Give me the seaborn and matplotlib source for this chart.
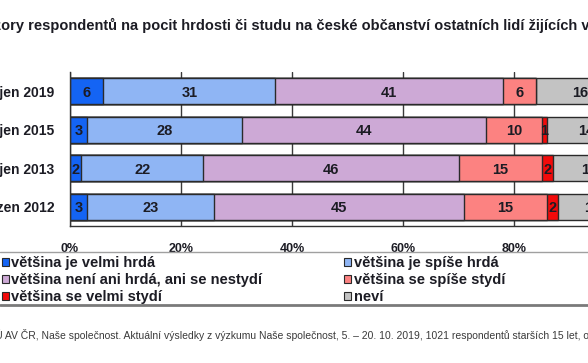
import matplotlib

matplotlib.use("Agg", force=True)
import pandas as pd  # noqa: E402
import seaborn as sns  # noqa: E402
from matplotlib import pyplot as plt  # noqa: E402
from matplotlib.lines import Line2D  # noqa: E402
from matplotlib.patches import Patch  # noqa: E402

PERIODS = ["říjen 2019", "říjen 2015", "říjen 2013", "březen 2012"]
ANSWERS = [
    "většina je velmi hrdá",
    "většina je spíše hrdá",
    "většina není ani hrdá, ani se nestydí",
    "většina se spíše stydí",
    "většina se velmi stydí",
    "neví",
]
VELMI_HRDA = [6, 3, 2, 3]
SPISE_HRDA = [31, 28, 22, 23]
ANI_ANI = [41, 44, 46, 45]
SPISE_STYDI = [6, 10, 15, 15]
VELMI_STYDI = [0, 1, 2, 2]
NEVI = [16, 14, 13, 12]
X_TICKS = [0, 20, 40, 60, 80, 100]

TITLE = ("Názory respondentů na pocit hrdosti či studu na české občanství "
         "ostatních lidí žijících v ČR")
SOURCE = ("Zdroj: CVVM SOÚ AV ČR, Naše společnost. Aktuální výsledky z výzkumu "
          "Naše společnost, 5. – 20. 10. 2019, 1021 respondentů starších 15 let, "
          "osobní rozhovor.")

PALETTE = {
    ANSWERS[0]: "#1464F4",
    ANSWERS[1]: "#8FB5F4",
    ANSWERS[2]: "#CDA9D6",
    ANSWERS[3]: "#FC8281",
    ANSWERS[4]: "#F20A0A",
    ANSWERS[5]: "#C3C3C3",
}
TEXT_COLOR = "#1c1c24"
EDGE = "#2a2a2a"

sns.set_style("white")
plt.rcParams["font.family"] = ["Liberation Sans", "DejaVu Sans"]

values = [VELMI_HRDA, SPISE_HRDA, ANI_ANI, SPISE_STYDI, VELMI_STYDI, NEVI]
rows = []
for answer, series in zip(ANSWERS, values):
    for period, value in zip(PERIODS, series):
        rows.append({"obdobi": period, "odpoved": answer, "podil": value})
frame = pd.DataFrame(rows)
frame["odpoved"] = pd.Categorical(frame["odpoved"], categories=ANSWERS, ordered=True)
frame = frame.sort_values(["obdobi", "odpoved"])
frame["konec"] = frame.groupby("obdobi")["podil"].cumsum()
frame["stred"] = frame["konec"] - frame["podil"] / 2

fig = plt.figure(figsize=(5.88, 3.63), dpi=100)
ax = fig.add_axes([70 / 588, 1 - 226.3 / 363, 555 / 588, 154.6 / 363])

# stacked bars: draw cumulative totals from the longest down
for answer in reversed(ANSWERS):
    part = frame[frame["odpoved"] == answer]
    sns.barplot(
        data=part,
        x="konec",
        y="obdobi",
        order=PERIODS,
        orient="h",
        color=PALETTE[answer],
        saturation=1,
        edgecolor=EDGE,
        linewidth=1.0,
        width=0.67,
        errorbar=None,
        ax=ax,
    )

for row in frame.itertuples(index=False):
    if row.podil == 0:
        continue
    ax.text(row.stred, PERIODS.index(row.obdobi), str(row.podil),
            ha="center", va="center_baseline", fontsize=10.5, fontweight="bold",
            color=TEXT_COLOR)

ax.set_xlim(0, 100)
ax.set_ylim(3.5, -0.5)
ax.set_xticks(X_TICKS)
ax.set_xticklabels([f"{t}%" for t in X_TICKS])
ax.set_xlabel("")
ax.set_ylabel("")
ax.set_yticks([-0.5, 0.5, 1.5, 2.5, 3.5], minor=True)
ax.tick_params(axis="y", which="major", length=0, pad=11, labelsize=10)
ax.tick_params(axis="y", which="minor", length=4, width=1, color="#333")
ax.tick_params(axis="x", length=5, width=1, color="#333", pad=7, labelsize=9)
for label in ax.get_xticklabels() + ax.get_yticklabels():
    label.set_fontweight("bold")
    label.set_color(TEXT_COLOR)
ax.xaxis.grid(True, color="#3a3a3a", linewidth=1.0)
ax.set_axisbelow(True)
for side in ("top", "right"):
    ax.spines[side].set_visible(False)
for side in ("left", "bottom"):
    ax.spines[side].set_color("#333")
    ax.spines[side].set_linewidth(1.0)

renderer = fig.canvas.get_renderer()


def text_width(s, **kw):
    probe = fig.text(0, 0, s, **kw)
    w = probe.get_window_extent(renderer).width
    probe.remove()
    return w


title_kw = dict(fontsize=10.5, fontweight="bold", color=TEXT_COLOR)
x0 = (1 - text_width("Náz", **title_kw)) / 588
fig.text(x0, 1 - 25 / 363, TITLE, ha="left", va="center", **title_kw)

source_kw = dict(fontsize=7.5, color="#3a3a3a")
x0 = (3 - text_width("Zdroj: CVVM SOÚ", **source_kw)) / 588
fig.text(x0, 1 - 335 / 363, SOURCE, ha="left", va="center", **source_kw)

# legend: column-major order matches the two-column layout of the source
legend_order = [0, 2, 4, 1, 3, 5]
handles = [Patch(facecolor=PALETTE[ANSWERS[i]], edgecolor=EDGE, linewidth=0.8)
           for i in legend_order]
labels = [ANSWERS[i] for i in legend_order]
leg = fig.legend(
    handles, labels,
    loc="upper left",
    bbox_to_anchor=(2 / 588, 1 - 256 / 363),
    ncol=2,
    frameon=False,
    borderpad=0,
    borderaxespad=0,
    handlelength=0.45,
    handleheight=0.45,
    handletextpad=0.2,
    labelspacing=0.22,
    columnspacing=5.6,
    prop={"size": 10.5, "weight": "bold"},
)
for t in leg.get_texts():
    t.set_color(TEXT_COLOR)

fig.add_artist(Line2D([0, 1], [1 - 252 / 363] * 2, transform=fig.transFigure,
                      color="#a0a0a0", linewidth=1.0))
fig.add_artist(Line2D([0, 1], [1 - 305 / 363] * 2, transform=fig.transFigure,
                      color="#7a7a7a", linewidth=2.0))

fig.savefig("out.png", dpi=100)
